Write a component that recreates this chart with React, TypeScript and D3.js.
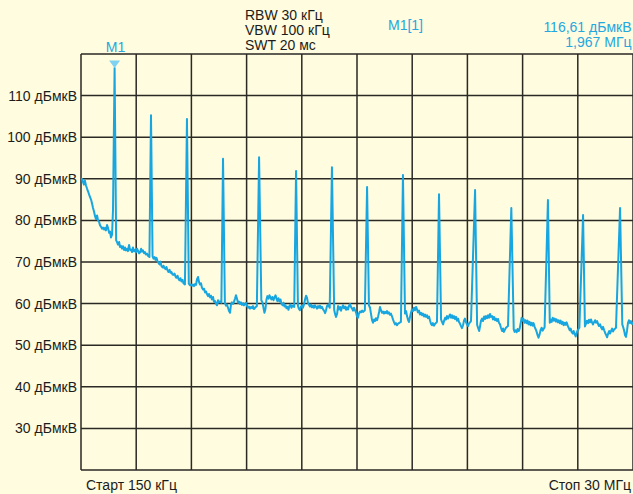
import React from "react";
import * as d3 from "d3";

// ---- data (frequency in MHz, level in dBµV) ----
const yTicks = [110, 100, 90, 80, 70, 60, 50, 40, 30];
const yGrid = [120, 110, 100, 90, 80, 70, 60, 50, 40, 30, 20];
const xGridMHz = [0.15, 3.135, 6.12, 9.105, 12.09, 15.075, 18.06, 21.045, 24.03, 27.015, 30];
const yUnit = "дБмкВ";

const headerLines = ["RBW 30 кГц", "VBW 100 кГц", "SWT 20 мс"];
const markerName = "M1";
const markerTitle = "M1[1]";
const markerLevelText = "116,61 дБмкВ";
const markerFreqText = "1,967 МГц";
const markerFreq = 1.967;
const markerLevel = 116.61;
const startLabel = "Старт 150 кГц";
const stopLabel = "Стоп 30 МГц";

const peakFreqs = [1.967, 3.935, 5.88, 7.83, 9.78, 11.78, 13.72, 15.62, 17.56, 19.51, 21.46, 23.42, 25.4, 27.3, 29.3];
const peakLevels = [116.61, 105.3, 104.4, 94.8, 95.2, 91.9, 92.8, 88.0, 90.9, 86.3, 87.3, 83.0, 84.9, 81.3, 83.0];

const noiseFloor: [number, number][] = [
  [0.15, 89.8], [0.2, 90.0], [0.26, 89.2], [0.31, 88.6], [0.36, 89.6], [0.42, 88.4], [0.48, 87.6], [0.53, 87.0], [0.59, 86.2], [0.64, 85.6], [0.7, 84.9], [0.75, 84.0], [0.8, 83.0], [0.85, 82.2], [0.91, 81.0], [0.96, 80.3], [1.02, 81.2], [1.07, 80.0], [1.13, 79.6], [1.18, 78.8], [1.24, 78.4], [1.29, 78.0], [1.34, 78.3], [1.4, 77.8], [1.45, 78.2], [1.5, 77.6], [1.56, 78.9], [1.61, 78.2], [1.67, 77.0], [1.72, 77.3], [1.77, 75.9], [1.83, 76.6], [1.88, 82.5],
  [2.05, 75.2], [2.1, 74.8], [2.15, 74.2], [2.21, 74.8], [2.26, 73.6], [2.31, 73.9], [2.37, 73.2], [2.42, 73.8], [2.48, 72.9], [2.53, 73.5], [2.58, 72.8], [2.64, 73.2], [2.69, 72.6], [2.75, 74.1], [2.8, 72.9], [2.85, 73.0], [2.91, 72.4], [2.96, 73.5], [3.02, 72.6], [3.07, 72.9], [3.12, 72.3], [3.18, 73.2], [3.23, 72.7], [3.29, 72.1], [3.34, 72.3], [3.4, 73.2], [3.45, 72.5], [3.5, 72.8], [3.56, 72.1], [3.61, 72.4], [3.66, 71.8], [3.72, 72.0], [3.77, 71.5], [3.85, 71.2],
  [4.02, 71.4], [4.07, 70.8], [4.13, 71.2], [4.18, 70.5], [4.23, 71.0], [4.29, 70.2], [4.34, 69.8], [4.4, 69.4], [4.45, 70.1], [4.5, 69.0], [4.56, 68.7], [4.61, 69.1], [4.67, 68.5], [4.72, 68.3], [4.77, 68.8], [4.83, 68.0], [4.88, 67.6], [4.94, 68.1], [4.99, 67.4], [5.04, 67.6], [5.1, 67.0], [5.15, 66.9], [5.21, 67.2], [5.26, 66.5], [5.31, 66.2], [5.37, 66.7], [5.42, 66.0], [5.47, 65.6], [5.53, 66.1], [5.58, 65.3], [5.64, 65.7], [5.69, 64.9], [5.77, 64.6],
  [5.98, 64.8], [6.04, 64.4], [6.1, 64.6], [6.15, 64.3], [6.21, 64.6], [6.26, 64.2], [6.32, 64.7], [6.37, 64.5], [6.42, 65.8], [6.48, 66.4], [6.53, 65.2], [6.58, 64.6], [6.64, 64.9], [6.69, 63.8], [6.75, 63.4], [6.8, 63.6], [6.86, 62.7], [6.91, 62.9], [6.96, 62.3], [7.02, 61.8], [7.07, 62.3], [7.13, 61.5], [7.18, 61.9], [7.23, 61.0], [7.29, 61.6], [7.34, 60.4], [7.4, 60.6], [7.45, 60.0], [7.5, 59.6], [7.56, 60.8], [7.61, 60.3], [7.67, 60.5], [7.74, 60.2],
  [7.93, 60.2], [7.99, 59.5], [8.04, 59.8], [8.1, 59.0], [8.15, 58.3], [8.21, 57.8], [8.26, 59.8], [8.31, 60.3], [8.37, 59.9], [8.42, 60.4], [8.48, 61.2], [8.53, 62.0], [8.58, 61.3], [8.64, 60.2], [8.69, 60.5], [8.75, 59.9], [8.8, 60.3], [8.85, 59.7], [8.91, 60.1], [8.96, 59.6], [9.02, 59.9], [9.07, 60.2], [9.13, 59.4], [9.18, 59.0], [9.23, 59.3], [9.29, 58.8], [9.34, 59.2], [9.4, 58.9], [9.45, 59.4], [9.5, 58.7], [9.56, 59.0], [9.66, 59.4],
  [9.9, 60.8], [9.96, 60.3], [10.02, 58.9], [10.07, 57.8], [10.12, 58.6], [10.18, 61.0], [10.23, 61.8], [10.29, 61.2], [10.34, 62.0], [10.4, 61.4], [10.45, 61.0], [10.5, 61.6], [10.56, 60.8], [10.61, 61.5], [10.67, 62.0], [10.72, 61.2], [10.77, 60.6], [10.83, 61.3], [10.88, 60.5], [10.94, 61.0], [10.99, 60.0], [11.05, 59.6], [11.1, 60.2], [11.15, 59.3], [11.21, 59.6], [11.26, 58.9], [11.32, 59.2], [11.37, 58.5], [11.42, 59.4], [11.48, 59.8], [11.53, 59.0], [11.58, 59.5], [11.68, 59.2],
  [11.88, 59.5], [11.93, 58.8], [11.99, 58.4], [12.04, 59.2], [12.1, 59.6], [12.15, 59.0], [12.21, 59.8], [12.26, 60.9], [12.32, 61.9], [12.37, 61.4], [12.42, 60.3], [12.48, 59.7], [12.53, 59.3], [12.59, 59.8], [12.64, 59.1], [12.7, 59.5], [12.75, 59.0], [12.8, 59.6], [12.86, 59.2], [12.91, 58.8], [12.97, 59.4], [13.02, 59.0], [13.07, 59.5], [13.13, 58.9], [13.18, 59.2], [13.24, 58.6], [13.29, 58.3], [13.35, 57.7], [13.4, 58.4], [13.45, 59.4], [13.51, 59.8], [13.6, 59.0],
  [13.84, 58.5], [13.89, 57.5], [13.94, 56.8], [14.0, 57.6], [14.05, 59.4], [14.1, 58.6], [14.16, 59.2], [14.21, 58.3], [14.26, 59.0], [14.32, 59.6], [14.37, 58.9], [14.43, 59.3], [14.48, 58.5], [14.53, 59.1], [14.59, 58.6], [14.64, 59.5], [14.7, 59.9], [14.75, 59.2], [14.81, 58.8], [14.86, 58.3], [14.91, 59.0], [14.97, 58.4], [15.02, 57.9], [15.07, 57.0], [15.13, 56.6], [15.18, 57.6], [15.24, 58.1], [15.29, 57.9], [15.35, 58.3], [15.4, 58.0], [15.5, 58.4],
  [15.72, 59.6], [15.78, 59.0], [15.83, 57.6], [15.89, 56.0], [15.94, 55.4], [16.0, 56.2], [16.05, 55.8], [16.1, 56.5], [16.16, 56.0], [16.21, 56.8], [16.27, 58.0], [16.32, 59.2], [16.37, 58.4], [16.43, 57.8], [16.48, 58.1], [16.53, 57.6], [16.59, 58.0], [16.64, 57.7], [16.7, 58.2], [16.75, 57.6], [16.8, 57.9], [16.86, 57.3], [16.91, 57.6], [16.97, 56.9], [17.02, 56.2], [17.08, 55.5], [17.13, 55.0], [17.18, 55.3], [17.24, 54.8], [17.3, 55.2], [17.45, 55.6],
  [17.67, 57.6], [17.73, 58.2], [17.78, 57.0], [17.84, 56.0], [17.89, 55.6], [17.94, 56.8], [18.0, 57.9], [18.05, 58.6], [18.1, 58.2], [18.16, 59.0], [18.21, 58.4], [18.27, 59.2], [18.32, 58.6], [18.37, 57.9], [18.43, 58.3], [18.48, 57.4], [18.54, 57.8], [18.59, 57.2], [18.64, 57.6], [18.7, 56.9], [18.75, 57.4], [18.81, 56.8], [18.86, 57.2], [18.91, 56.5], [18.97, 56.9], [19.02, 56.0], [19.08, 55.1], [19.13, 54.8], [19.18, 55.3], [19.24, 54.7], [19.29, 55.1], [19.4, 55.6],
  [19.62, 56.2], [19.67, 55.6], [19.73, 55.0], [19.78, 55.8], [19.84, 56.6], [19.89, 56.2], [19.94, 57.0], [20.0, 56.4], [20.05, 56.9], [20.1, 57.4], [20.16, 56.6], [20.21, 57.2], [20.27, 56.5], [20.32, 57.0], [20.37, 56.3], [20.43, 56.8], [20.48, 55.9], [20.54, 56.4], [20.59, 55.6], [20.64, 55.2], [20.7, 54.6], [20.75, 54.1], [20.81, 54.8], [20.86, 55.9], [20.91, 56.4], [20.97, 55.5], [21.02, 55.0], [21.08, 54.6], [21.13, 55.2], [21.24, 55.8],
  [21.57, 54.9], [21.62, 54.2], [21.68, 53.4], [21.73, 54.6], [21.78, 55.9], [21.84, 56.4], [21.89, 55.8], [21.95, 56.9], [22.0, 56.3], [22.05, 57.0], [22.11, 56.5], [22.16, 57.2], [22.21, 56.6], [22.27, 57.5], [22.32, 56.8], [22.38, 57.0], [22.43, 56.2], [22.48, 56.8], [22.54, 56.0], [22.59, 56.4], [22.65, 55.8], [22.7, 56.3], [22.75, 55.4], [22.81, 55.0], [22.86, 54.2], [22.92, 53.4], [22.97, 54.0], [23.02, 53.2], [23.08, 53.8], [23.13, 54.2], [23.24, 54.6],
  [23.55, 53.8], [23.6, 53.2], [23.65, 53.6], [23.71, 53.1], [23.76, 53.9], [23.82, 53.4], [23.87, 54.0], [23.92, 55.2], [23.98, 56.6], [24.03, 55.9], [24.08, 56.3], [24.14, 55.4], [24.19, 56.0], [24.25, 55.3], [24.3, 55.9], [24.35, 55.0], [24.41, 55.6], [24.46, 54.8], [24.52, 55.4], [24.57, 54.7], [24.62, 55.3], [24.68, 54.4], [24.73, 53.9], [24.79, 53.2], [24.84, 52.4], [24.89, 51.8], [24.95, 52.6], [25.0, 53.6], [25.06, 54.2], [25.11, 53.5], [25.22, 54.3],
  [25.5, 55.4], [25.55, 56.2], [25.6, 55.6], [25.66, 56.6], [25.71, 55.9], [25.77, 56.4], [25.82, 55.7], [25.87, 56.2], [25.93, 55.5], [25.98, 56.0], [26.04, 55.3], [26.09, 55.9], [26.14, 55.1], [26.2, 55.6], [26.25, 54.8], [26.31, 55.4], [26.36, 54.9], [26.41, 55.5], [26.47, 54.7], [26.52, 54.2], [26.58, 53.6], [26.63, 54.0], [26.68, 53.2], [26.74, 52.8], [26.79, 53.4], [26.85, 52.6], [26.9, 52.1], [26.95, 52.9], [27.01, 53.6], [27.1, 54.2],
  [27.4, 54.5], [27.46, 55.2], [27.51, 55.9], [27.57, 55.3], [27.62, 56.1], [27.68, 55.5], [27.73, 56.2], [27.79, 55.4], [27.84, 55.0], [27.9, 55.6], [27.95, 56.0], [28.0, 55.4], [28.06, 55.8], [28.11, 55.1], [28.16, 54.6], [28.22, 55.0], [28.27, 54.3], [28.33, 53.8], [28.38, 54.4], [28.44, 53.6], [28.49, 53.0], [28.55, 52.4], [28.6, 51.9], [28.65, 52.7], [28.71, 53.4], [28.76, 52.8], [28.82, 53.5], [28.87, 54.0], [28.92, 53.3], [28.98, 53.8], [29.08, 54.2],
  [29.42, 55.0], [29.47, 54.3], [29.52, 53.5], [29.57, 52.4], [29.62, 52.0], [29.68, 53.6], [29.73, 55.4], [29.78, 56.0], [29.84, 55.3], [29.89, 55.8], [29.95, 55.1], [30.0, 55.6],
];

const W = 633;
const H = 494;
const plot = { left: 81, right: 633, top: 54, bottom: 470 };
const FONT = "'Liberation Sans', Arial, sans-serif";
const BG = "#fffcdf";
const GRID = "#2a2924";
const TRACE = "#17a6e0";
const MARKER_TXT = "#25a7e0";
const TXT = "#1c1c1c";

export default function App() {
  const x = d3.scaleLinear().domain([0.15, 30]).range([plot.left, plot.right]);
  const y = d3.scaleLinear().domain([20, 120]).range([plot.bottom, plot.top]);

  const peaks: [number, number][] = peakFreqs.map((f, i) => [f, peakLevels[i]]);
  const trace = [...noiseFloor, ...peaks].sort((a, b) => a[0] - b[0]);
  const line = d3
    .line<[number, number]>()
    .x((d) => x(d[0]))
    .y((d) => y(d[1]));

  const mx = x(markerFreq);
  const my = y(markerLevel);

  return (
    <div style={{ position: "fixed", left: 0, top: 0, width: W, height: H }}>
      <svg width={W} height={H} style={{ display: "block" }} fontFamily={FONT}>
        <rect x={0} y={0} width={W} height={H} fill={BG} />
        <defs>
          <clipPath id="plotclip">
            <rect x={plot.left} y={plot.top - 20} width={plot.right - plot.left} height={plot.bottom - plot.top + 20} />
          </clipPath>
        </defs>
        {/* grid */}
        {yGrid.map((v) => (
          <line key={"h" + v} x1={plot.left} x2={plot.right} y1={y(v)} y2={y(v)} stroke={GRID} strokeWidth={1.5} />
        ))}
        {xGridMHz.map((f, i) => (
          <line key={"v" + i} x1={x(f)} x2={x(f)} y1={plot.top} y2={plot.bottom} stroke={GRID} strokeWidth={1.5} />
        ))}
        {/* y labels */}
        {yTicks.map((v) => (
          <text key={"t" + v} x={77} y={y(v) + 5} textAnchor="end" fontSize={14} fill={TXT}>
            {v} {yUnit}
          </text>
        ))}
        {/* trace */}
        <path d={line(trace) || ""} fill="none" stroke={TRACE} strokeWidth={2} strokeLinejoin="round" clipPath="url(#plotclip)" />
        {/* marker */}
        <path d={`M${mx - 5.5},${my - 7.5}L${mx + 5.5},${my - 7.5}L${mx},${my}Z`} fill="#7fd1f2" />
        <text x={mx + 1} y={52} textAnchor="middle" fontSize={14} fill={MARKER_TXT}>
          {markerName}
        </text>
        {/* header */}
        {headerLines.map((t, i) => (
          <text key={t} x={245} y={19.5 + i * 15.2} fontSize={14} fill={TXT}>
            {t}
          </text>
        ))}
        <text x={388} y={30} fontSize={14} fill={MARKER_TXT}>
          {markerTitle}
        </text>
        <text x={631.5} y={32} textAnchor="end" fontSize={14} fill={MARKER_TXT}>
          {markerLevelText}
        </text>
        <text x={631.5} y={47} textAnchor="end" fontSize={14} fill={MARKER_TXT}>
          {markerFreqText}
        </text>
        {/* footer */}
        <text x={86} y={489.5} fontSize={14} fill={TXT}>
          {startLabel}
        </text>
        <text x={631} y={489.5} textAnchor="end" fontSize={14} fill={TXT}>
          {stopLabel}
        </text>
      </svg>
    </div>
  );
}
